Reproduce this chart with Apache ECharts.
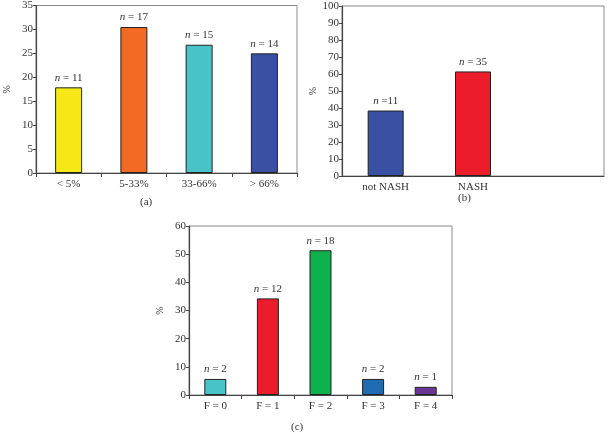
<!DOCTYPE html>
<html><head><meta charset="utf-8">
<script src="https://cdn.jsdelivr.net/npm/echarts@6/dist/echarts.min.js"></script>
<style>html,body{margin:0;padding:0;background:#fff}#c{width:608px;height:434px}</style>
</head><body><div id="c"></div>
<script>
// Panel (a)
const catsA = ['< 5%', '5-33%', '33-66%', '> 66%'];
const valsA = [17.9, 30.5, 26.8, 25.0];
const nA = ['n = 11', 'n = 17', 'n = 15', 'n = 14'];
const colorsA = ['#f5e816', '#f26a24', '#48c3c7', '#3a50a2'];
const ticksA = { min: 0, max: 35, interval: 5 };
// Panel (b)
const catsB = ['not NASH', 'NASH', ''];
const valsB = [38.5, 61.5, null];
const nB = ['n =11', 'n = 35', ''];
const colorsB = ['#3a50a2', '#ec1c2a', '#ffffff'];
const ticksB = { min: 0, max: 100, interval: 10 };
// Panel (c)
const catsC = ['F = 0', 'F = 1', 'F = 2', 'F = 3', 'F = 4'];
const valsC = [5.7, 34.3, 51.4, 5.7, 2.9];
const nC = ['n = 2', 'n = 12', 'n = 18', 'n = 2', 'n = 1'];
const colorsC = ['#48c3c7', '#ec1c2a', '#0fb14e', '#1f6cb5', '#6b3594'];
const ticksC = { min: 0, max: 60, interval: 10 };
const captions = ['(a)', '(b)', '(c)'];

const FONT = '"Liberation Serif", "DejaVu Serif", serif';
const TXT = '#333';
const FS = 11;

function labelFmt(arr) {
  return function (p) {
    const s = arr[p.dataIndex];
    if (!s) return '';
    return '{i|n}{r|' + s.slice(1) + '}';
  };
}
const rich = {
  i: { fontFamily: FONT, fontStyle: 'italic', fontSize: FS, color: TXT },
  r: { fontFamily: FONT, fontSize: FS, color: TXT }
};

const grids = [
  { left: 36, top: 4, width: 261, height: 169 },
  { left: 342, top: 6, width: 262, height: 170 },
  { left: 189, top: 226, width: 263, height: 169 }
].map(g => Object.assign(g, { show: true, borderColor: '#8a8a8a', borderWidth: 1, backgroundColor: 'transparent', containLabel: false }));

function xAx(i, cats, showTick) {
  return {
    type: 'category', gridIndex: i, data: cats,
    axisLine: { lineStyle: { color: '#444', width: 1.2 } },
    axisTick: { show: showTick, length: 4, lineStyle: { color: '#444' } },
    axisLabel: { fontFamily: FONT, fontSize: FS, color: TXT, margin: 6 }
  };
}
function yAx(i, t) {
  return {
    type: 'value', gridIndex: i, min: t.min, max: t.max, interval: t.interval,
    name: '%', nameLocation: 'middle', nameGap: 24, nameRotate: 90,
    nameTextStyle: { fontFamily: FONT, fontSize: 10, color: TXT },
    splitLine: { show: false },
    axisLine: { show: true, lineStyle: { color: '#444', width: 1.2 } },
    axisTick: { show: true, length: 3, lineStyle: { color: '#444' } },
    axisLabel: { fontFamily: FONT, fontSize: FS, color: TXT, margin: 3 }
  };
}
function ser(i, vals, colors, ns, bw) {
  return {
    type: 'bar', xAxisIndex: i, yAxisIndex: i, barWidth: bw,
    data: vals.map((v, k) => ({ value: v == null ? '-' : v, itemStyle: { color: colors[k] } })),
    itemStyle: { borderColor: '#222', borderWidth: 1 },
    label: { show: true, position: 'top', distance: 4, formatter: labelFmt(ns), rich: rich },
    animation: false
  };
}

const chart = echarts.init(document.getElementById('c'), null, { renderer: 'canvas' });
chart.setOption({
  backgroundColor: '#fff',
  animation: false,
  grid: grids,
  xAxis: [xAx(0, catsA, true), xAx(1, catsB, false), xAx(2, catsC, true)],
  yAxis: [yAx(0, ticksA), yAx(1, ticksB), yAx(2, ticksC)],
  series: [ser(0, valsA, colorsA, nA, 27), ser(1, valsB, colorsB, nB, 36), ser(2, valsC, colorsC, nC, 22)],
  graphic: [
    { type: 'text', left: 140, top: 197, style: { text: captions[0], font: '11px ' + FONT, fill: TXT } },
    { type: 'text', left: 458, top: 193, style: { text: captions[1], font: '11px ' + FONT, fill: TXT } },
    { type: 'text', left: 291, top: 422, style: { text: captions[2], font: '11px ' + FONT, fill: TXT } }
  ]
});
</script></body></html>
